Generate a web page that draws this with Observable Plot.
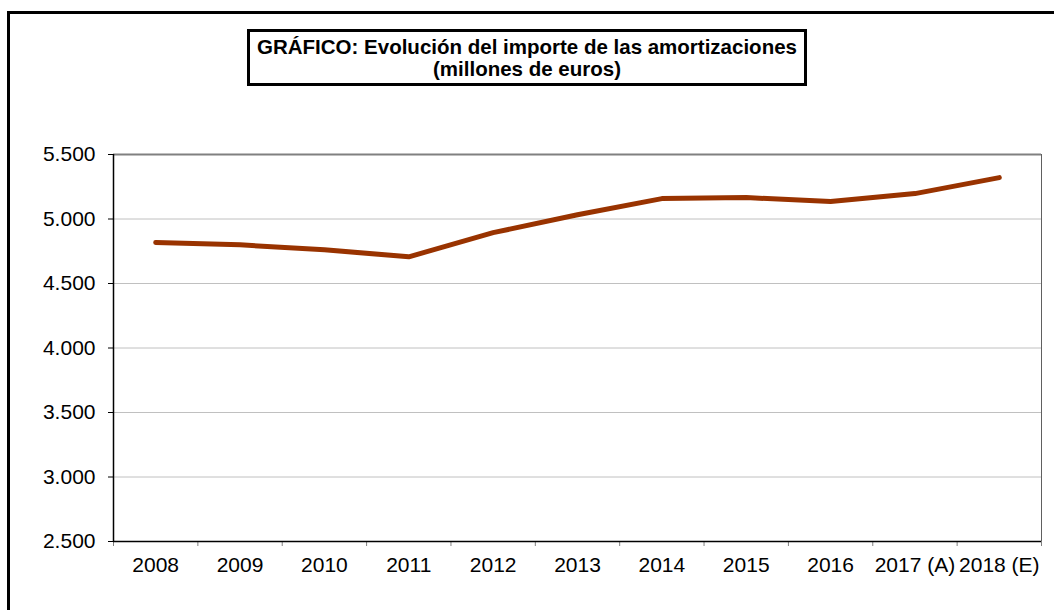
<!DOCTYPE html>
<html>
<head>
<meta charset="utf-8">
<script src="https://cdn.jsdelivr.net/npm/d3@7"></script>
<script src="https://cdn.jsdelivr.net/npm/@observablehq/plot@0.6"></script>
<style>
  html, body { margin: 0; padding: 0; background: #fff; }
  #wrap { position: relative; width: 1054px; height: 610px; overflow: hidden; background: #fff; }
  #chart { position: absolute; left: 0; top: 0; }
  #frame { position: absolute; left: 7px; top: 11px; width: 1100px; height: 700px;
           border-left: 3px solid #000; border-top: 3px solid #000; z-index: 2; pointer-events: none; }
  #title { position: absolute; left: 247px; top: 29px; width: 560px; height: 57px; box-sizing: border-box;
           border: 3px solid #000; background: #fff; z-index: 3; padding-top: 3.5px;
           font: bold 20.5px "Liberation Sans", Arial, sans-serif; line-height: 22.5px; text-align: center; color: #000; }
</style>
</head>
<body>
<div id="wrap">
  <div id="chart"></div>
  <div id="frame"></div>
  <div id="title">GRÁFICO: Evolución del importe de las amortizaciones<br>(millones de euros)</div>
</div>
<script>
const years = ["2008", "2009", "2010", "2011", "2012", "2013", "2014", "2015", "2016", "2017 (A)", "2018 (E)"];
const values = [4818, 4800, 4761, 4707, 4894, 5033, 5158, 5166, 5135, 5197, 5321];
const yTicks = [2500, 3000, 3500, 4000, 4500, 5000, 5500];

const data = years.map((y, i) => ({pos: i + 0.5, year: y, value: values[i]}));
const fmt = d => d3.format(",")(d).replace(/,/g, ".");
const n = years.length;

const chart = Plot.plot({
  width: 1054,
  height: 610,
  marginLeft: 113,
  marginRight: 13,
  marginTop: 154,
  marginBottom: 69,
  style: {fontFamily: "'Liberation Sans', Arial, sans-serif", fontSize: "21px", color: "#000", background: "transparent"},
  x: {type: "linear", domain: [0, n]},
  y: {domain: [2500, 5500]},
  marks: [
    Plot.gridY(yTicks.slice(1, -1), {stroke: "#c0c0c0", strokeOpacity: 1, strokeWidth: 1}),
    Plot.ruleY([5500], {stroke: "#808080", strokeWidth: 2}),
    Plot.ruleX([n], {stroke: "#606060", strokeWidth: 1}),
    Plot.axisY(yTicks, {tickSize: 5, tickPadding: 13, tickFormat: fmt, stroke: "#000", fontSize: 21, label: null}),
    Plot.axisX(d3.range(n + 1), {tickSize: 5, tickFormat: () => "", stroke: "#808080", label: null}),
    Plot.axisX(data.map(d => d.pos), {tickSize: 0, tickPadding: 16, tickFormat: p => years[Math.floor(p)], fontSize: 21, label: null}),
    Plot.ruleX([0], {stroke: "#000", strokeWidth: 1.5}),
    Plot.ruleY([2500], {stroke: "#000", strokeWidth: 1.5}),
    Plot.line(data, {x: "pos", y: "value", stroke: "#993300", strokeWidth: 5, strokeLinecap: "round", strokeLinejoin: "round"})
  ]
});
document.getElementById("chart").appendChild(chart);
</script>
</body>
</html>
